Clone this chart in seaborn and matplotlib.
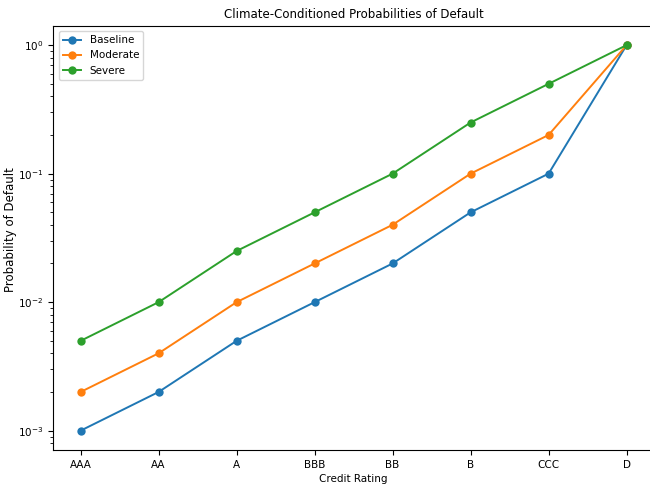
import pandas as pd
import numpy as np
import matplotlib
matplotlib.use("Agg")
import matplotlib.pyplot as plt
import seaborn as sns

# ==============================
# DATA
# ==============================
ratings = ['AAA', 'AA', 'A', 'BBB', 'BB', 'B', 'CCC', 'D']
baseline = [0.001, 0.002, 0.005, 0.01, 0.02, 0.05, 0.1, 1.0]
moderate = [0.002, 0.004, 0.01, 0.02, 0.04, 0.1, 0.2, 1.0]
severe = [0.005, 0.01, 0.025, 0.05, 0.1, 0.25, 0.5, 1.0]
scenarios = ['Baseline', 'Moderate', 'Severe']

df = pd.DataFrame({
    'rating': ratings * 3,
    'pd': baseline + moderate + severe,
    'scenario': np.repeat(scenarios, len(ratings)),
})

# ==============================
# PLOT
# ==============================
plt.rcParams['font.family'] = ['DejaVu Sans']
plt.rcParams['font.size'] = 7.5

fig, ax = plt.subplots(figsize=(6.5, 4.88), dpi=100)
fig.subplots_adjust(left=0.082, right=1.006, top=0.947, bottom=0.078)

sns.lineplot(data=df, x='rating', y='pd', hue='scenario', marker='o',
             markersize=6, markeredgewidth=0, linewidth=1.4,
             palette=['#1f77b4', '#ff7f0e', '#2ca02c'], ax=ax, sort=False)

ax.set_yscale('log')
ax.set_title("Climate-Conditioned Probabilities of Default", fontsize=8.5)
ax.set_xlabel("Credit Rating", fontsize=7.5, labelpad=3)
ax.set_ylabel("Probability of Default", fontsize=8.5)
ax.yaxis.set_label_coords(-0.061, 0.52)
ax.tick_params(labelsize=7.5)
ax.legend(title=None, loc='upper left', fontsize=7.5, handlelength=1.8)

fig.savefig("out.png", dpi=100)
